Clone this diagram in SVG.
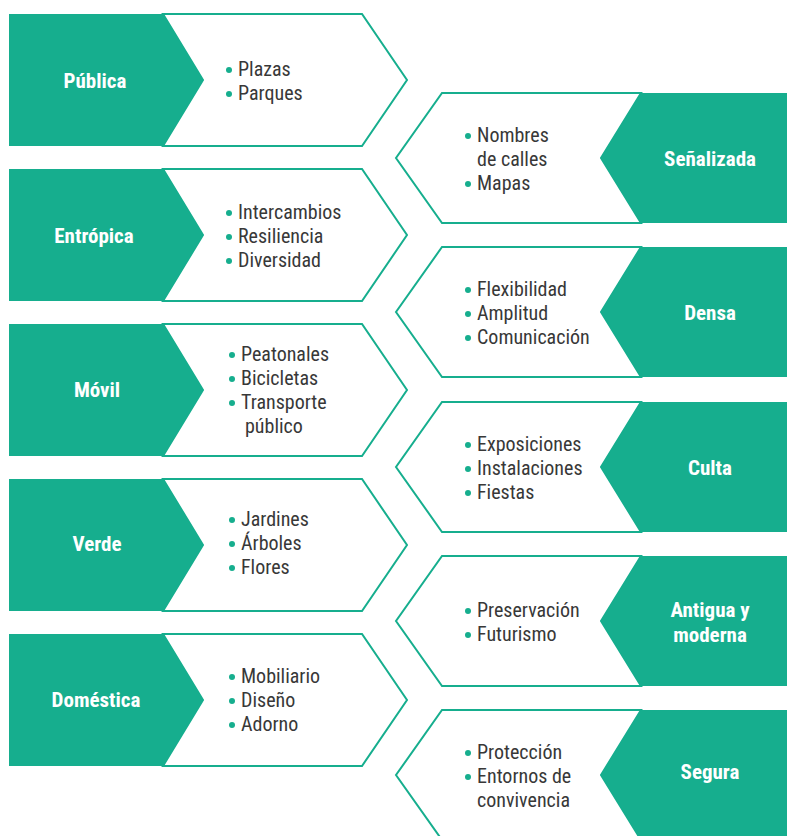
<svg xmlns="http://www.w3.org/2000/svg" width="787" height="836" viewBox="0 0 787 836">
<style>
.g{fill:#16ae8e}
.o{fill:#fff;stroke:#16ae8e;stroke-width:2;stroke-linejoin:miter}
.t{font-family:"Liberation Sans Narrow","Roboto Condensed","Liberation Sans",sans-serif;font-size:20px;fill:#383838}
.h{font-family:"Liberation Sans Narrow","Roboto Condensed","Liberation Sans",sans-serif;font-size:21px;font-weight:bold;fill:#fff;text-anchor:middle}
.b{fill:#16ae8e}
</style>
<rect width="787" height="836" fill="#fff"/>
<g id="connectors"></g>
<g id="publica">
<polygon class="o" points="163,14 362,14 407,80 362,146 163,146 203,80"/>
<polygon class="g" points="9,14 163,14 203,80 163,146 9,146"/>
<text class="h" x="95" y="88">Pública</text>
<circle class="b" cx="229" cy="70" r="3"/><text class="t" x="238" y="76">Plazas</text>
<circle class="b" cx="229" cy="94" r="3"/><text class="t" x="238" y="100">Parques</text>
</g>
<g id="entropica">
<polygon class="o" points="163,169 362,169 407,235 362,301 163,301 203,235"/>
<polygon class="g" points="9,169 163,169 203,235 163,301 9,301"/>
<text class="h" x="94" y="243">Entrópica</text>
<circle class="b" cx="229" cy="213" r="3"/><text class="t" x="238" y="219">Intercambios</text>
<circle class="b" cx="229" cy="237" r="3"/><text class="t" x="238" y="243">Resiliencia</text>
<circle class="b" cx="229" cy="261" r="3"/><text class="t" x="238" y="267">Diversidad</text>
</g>
<g id="movil">
<polygon class="o" points="163,324 362,324 407,390 362,456 163,456 203,390"/>
<polygon class="g" points="9,324 163,324 203,390 163,456 9,456"/>
<text class="h" x="97" y="397">Móvil</text>
<circle class="b" cx="232" cy="355" r="3"/><text class="t" x="241" y="361">Peatonales</text>
<circle class="b" cx="232" cy="379" r="3"/><text class="t" x="241" y="385">Bicicletas</text>
<circle class="b" cx="232" cy="403" r="3"/><text class="t" x="241" y="409">Transporte</text>
<text class="t" x="245" y="433">público</text>
</g>
<g id="verde">
<polygon class="o" points="163,479 362,479 407,545 362,611 163,611 203,545"/>
<polygon class="g" points="9,479 163,479 203,545 163,611 9,611"/>
<text class="h" x="97" y="551">Verde</text>
<circle class="b" cx="232" cy="520" r="3"/><text class="t" x="241" y="526">Jardines</text>
<circle class="b" cx="232" cy="544" r="3"/><text class="t" x="241" y="550">Árboles</text>
<circle class="b" cx="232" cy="568" r="3"/><text class="t" x="241" y="574">Flores</text>
</g>
<g id="domestica">
<polygon class="o" points="163,634 362,634 407,700 362,766 163,766 203,700"/>
<polygon class="g" points="9,634 163,634 203,700 163,766 9,766"/>
<text class="h" x="96" y="707">Doméstica</text>
<circle class="b" cx="232" cy="677" r="3"/><text class="t" x="241" y="683">Mobiliario</text>
<circle class="b" cx="232" cy="701" r="3"/><text class="t" x="241" y="707">Diseño</text>
<circle class="b" cx="232" cy="725" r="3"/><text class="t" x="241" y="731">Adorno</text>
</g>
<g id="senalizada">
<polygon class="o" points="641,93 442,93 396,158 442,223 641,223 601,158"/>
<polygon class="g" points="641,93 788,93 788,223 641,223 601,158"/>
<text class="h" x="710" y="166">Señalizada</text>
<circle class="b" cx="468" cy="136" r="3"/><text class="t" x="477" y="142">Nombres</text>
<text class="t" x="477" y="166">de calles</text>
<circle class="b" cx="468" cy="184" r="3"/><text class="t" x="477" y="190">Mapas</text>
</g>
<g id="densa">
<polygon class="o" points="641,247 442,247 396,312 442,377 641,377 601,312"/>
<polygon class="g" points="641,247 788,247 788,377 641,377 601,312"/>
<text class="h" x="710" y="320">Densa</text>
<circle class="b" cx="468" cy="290" r="3"/><text class="t" x="477" y="296">Flexibilidad</text>
<circle class="b" cx="468" cy="314" r="3"/><text class="t" x="477" y="320">Amplitud</text>
<circle class="b" cx="468" cy="338" r="3"/><text class="t" x="477" y="344">Comunicación</text>
</g>
<g id="culta">
<polygon class="o" points="641,402 442,402 396,467 442,532 641,532 601,467"/>
<polygon class="g" points="641,402 788,402 788,532 641,532 601,467"/>
<text class="h" x="710" y="475">Culta</text>
<circle class="b" cx="468" cy="445" r="3"/><text class="t" x="477" y="451">Exposiciones</text>
<circle class="b" cx="468" cy="469" r="3"/><text class="t" x="477" y="475">Instalaciones</text>
<circle class="b" cx="468" cy="493" r="3"/><text class="t" x="477" y="499">Fiestas</text>
</g>
<g id="antigua">
<polygon class="o" points="641,556 442,556 396,621 442,686 641,686 601,621"/>
<polygon class="g" points="641,556 788,556 788,686 641,686 601,621"/>
<text class="h" x="710" y="617">Antigua y</text>
<text class="h" x="710" y="642">moderna</text>
<circle class="b" cx="468" cy="611" r="3"/><text class="t" x="477" y="617">Preservación</text>
<circle class="b" cx="468" cy="635" r="3"/><text class="t" x="477" y="641">Futurismo</text>
</g>
<g id="segura">
<polygon class="o" points="641,710 442,710 396,775 442,840 641,840 601,775"/>
<polygon class="g" points="641,710 788,710 788,840 641,840 601,775"/>
<text class="h" x="710" y="779">Segura</text>
<circle class="b" cx="468" cy="753" r="3"/><text class="t" x="477" y="759">Protección</text>
<circle class="b" cx="468" cy="777" r="3"/><text class="t" x="477" y="783">Entornos de</text>
<text class="t" x="477" y="807">convivencia</text>
</g>
</svg>
